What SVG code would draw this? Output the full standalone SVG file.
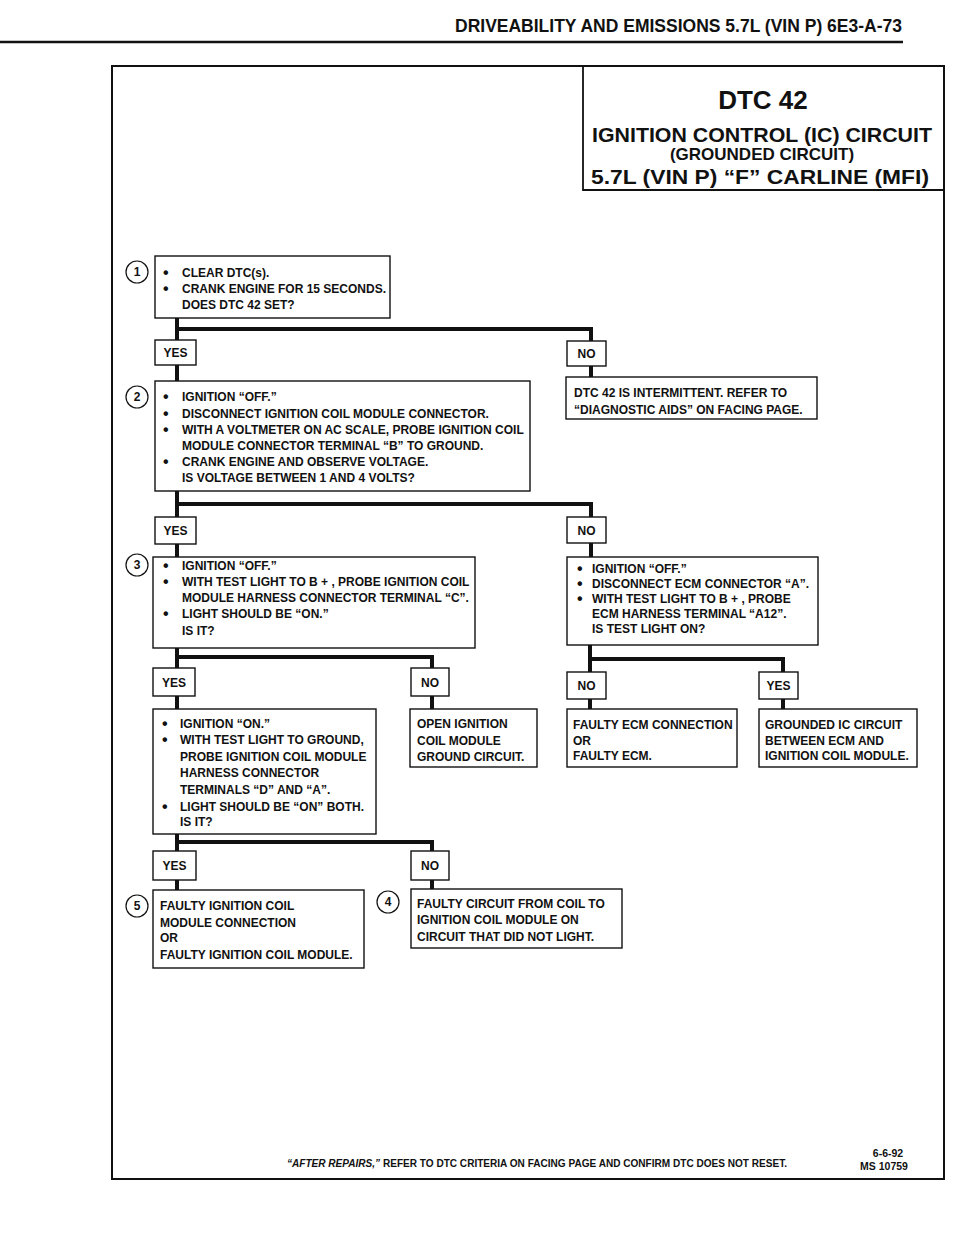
<svg xmlns="http://www.w3.org/2000/svg" width="960" height="1250" viewBox="0 0 960 1250">
<style>
.t{font-family:"Liberation Sans",Arial,sans-serif;font-weight:bold;font-size:12px;fill:#111}
.b{font-size:16px}
.n{font-size:11px}
.box{fill:#fff;stroke:#111;stroke-width:1.4}
.lbl{fill:#fff;stroke:#111;stroke-width:1.4}
.c{fill:#fff;stroke:#111;stroke-width:1.2}
.conn line{stroke:#111;stroke-width:4}
.mid{text-anchor:middle}
</style>
<rect x="0" y="0" width="960" height="1250" fill="#fff"/>
<g id="header">
<text class="t" x="455" y="32" style="font-size:19px" textLength="447" lengthAdjust="spacingAndGlyphs">DRIVEABILITY AND EMISSIONS  5.7L  (VIN P)  6E3-A-73</text>
<line x1="0" y1="42" x2="903" y2="42" stroke="#111" stroke-width="2.5"/>
</g>
<g id="frame">
<rect x="112" y="66" width="832" height="1113" fill="none" stroke="#111" stroke-width="2"/>
</g>
<g id="title">
<path d="M583 66 V190 H944" fill="none" stroke="#111" stroke-width="1.8"/>
<text class="t mid" x="763" y="109" style="font-size:26px">DTC 42</text>
<text class="t mid" x="762" y="142" style="font-size:21px" textLength="340" lengthAdjust="spacingAndGlyphs">IGNITION CONTROL (IC) CIRCUIT</text>
<text class="t mid" x="762" y="160" style="font-size:17px">(GROUNDED CIRCUIT)</text>
<text class="t mid" x="760" y="184" style="font-size:21px" textLength="338" lengthAdjust="spacingAndGlyphs">5.7L  (VIN P)  “F”  CARLINE  (MFI)</text>
</g>
<g id="connectors" class="conn">
<line x1="177" y1="318" x2="177" y2="381"/>
<line x1="175" y1="329" x2="593" y2="329"/>
<line x1="591" y1="327" x2="591" y2="377"/>
<line x1="177" y1="491" x2="177" y2="557"/>
<line x1="175" y1="504" x2="593" y2="504"/>
<line x1="591" y1="502" x2="591" y2="557"/>
<line x1="177" y1="648" x2="177" y2="709"/>
<line x1="175" y1="657" x2="434" y2="657"/>
<line x1="432" y1="655" x2="432" y2="709"/>
<line x1="590" y1="645" x2="590" y2="709"/>
<line x1="588" y1="659" x2="785" y2="659"/>
<line x1="783" y1="657" x2="783" y2="709"/>
<line x1="177" y1="834" x2="177" y2="890"/>
<line x1="175" y1="842" x2="434" y2="842"/>
<line x1="432" y1="840" x2="432" y2="889"/>
</g>
<g id="step1">
<circle class="c" cx="137" cy="272" r="11"/>
<text class="t mid" x="137" y="276">1</text>
<rect class="box" x="155" y="256" width="235" height="62"/>
<text class="t b" x="163" y="278">•</text><text class="t" x="182" y="277">CLEAR DTC(s).</text>
<text class="t b" x="163" y="294">•</text><text class="t" x="182" y="293">CRANK ENGINE FOR 15 SECONDS.</text>
<text class="t" x="182" y="309">DOES DTC 42 SET?</text>
</g>
<g id="yes1"><rect class="lbl" x="155" y="340" width="41" height="25"/><text class="t mid" x="175.5" y="357">YES</text></g>
<g id="no1"><rect class="lbl" x="567" y="341" width="39" height="25"/><text class="t mid" x="586.5" y="358">NO</text></g>
<g id="intermittent">
<rect class="box" x="566" y="377" width="251" height="42"/>
<text class="t" x="574" y="397">DTC 42 IS INTERMITTENT.  REFER TO</text>
<text class="t" x="574" y="414">“DIAGNOSTIC AIDS” ON FACING PAGE.</text>
</g>
<g id="step2">
<circle class="c" cx="137" cy="397" r="11"/>
<text class="t mid" x="137" y="401">2</text>
<rect class="box" x="155" y="381" width="375" height="110"/>
<text class="t b" x="163" y="402">•</text><text class="t" x="182" y="401">IGNITION “OFF.”</text>
<text class="t b" x="163" y="419">•</text><text class="t" x="182" y="418">DISCONNECT IGNITION COIL MODULE CONNECTOR.</text>
<text class="t b" x="163" y="435">•</text><text class="t" x="182" y="434">WITH A VOLTMETER ON AC SCALE, PROBE IGNITION COIL</text>
<text class="t" x="182" y="450">MODULE CONNECTOR TERMINAL “B” TO GROUND.</text>
<text class="t b" x="163" y="467">•</text><text class="t" x="182" y="466">CRANK ENGINE AND OBSERVE VOLTAGE.</text>
<text class="t" x="182" y="482">IS VOLTAGE BETWEEN 1 AND 4 VOLTS?</text>
</g>
<g id="yes2"><rect class="lbl" x="155" y="517" width="41" height="27"/><text class="t mid" x="175.5" y="535">YES</text></g>
<g id="no2"><rect class="lbl" x="567" y="517" width="39" height="26"/><text class="t mid" x="586.5" y="535">NO</text></g>
<g id="step3">
<circle class="c" cx="137" cy="565" r="11"/>
<text class="t mid" x="137" y="569">3</text>
<rect class="box" x="153" y="557" width="322" height="91"/>
<text class="t b" x="163" y="571">•</text><text class="t" x="182" y="570">IGNITION “OFF.”</text>
<text class="t b" x="163" y="587">•</text><text class="t" x="182" y="586">WITH TEST LIGHT TO B + , PROBE IGNITION COIL</text>
<text class="t" x="182" y="602">MODULE HARNESS CONNECTOR TERMINAL “C”.</text>
<text class="t b" x="163" y="619">•</text><text class="t" x="182" y="618">LIGHT SHOULD BE “ON.”</text>
<text class="t" x="182" y="635">IS IT?</text>
</g>
<g id="ecmcheck">
<rect class="box" x="567" y="557" width="251" height="88"/>
<text class="t b" x="577" y="574">•</text><text class="t" x="592" y="573">IGNITION “OFF.”</text>
<text class="t b" x="577" y="589">•</text><text class="t" x="592" y="588">DISCONNECT ECM CONNECTOR “A”.</text>
<text class="t b" x="577" y="604">•</text><text class="t" x="592" y="603">WITH TEST LIGHT TO B + , PROBE</text>
<text class="t" x="592" y="618">ECM HARNESS TERMINAL “A12”.</text>
<text class="t" x="592" y="633">IS TEST LIGHT ON?</text>
</g>
<g id="yes3"><rect class="lbl" x="153" y="668" width="42" height="28"/><text class="t mid" x="174" y="687">YES</text></g>
<g id="no3"><rect class="lbl" x="411" y="668" width="38" height="28"/><text class="t mid" x="430" y="687">NO</text></g>
<g id="no3r"><rect class="lbl" x="567" y="672" width="39" height="27"/><text class="t mid" x="586.5" y="690">NO</text></g>
<g id="yes3r"><rect class="lbl" x="759" y="672" width="39" height="27"/><text class="t mid" x="778.5" y="690">YES</text></g>
<g id="step4check">
<rect class="box" x="153" y="709" width="223" height="125"/>
<text class="t b" x="162" y="729">•</text><text class="t" x="180" y="728">IGNITION “ON.”</text>
<text class="t b" x="162" y="745">•</text><text class="t" x="180" y="744">WITH TEST LIGHT TO GROUND,</text>
<text class="t" x="180" y="761">PROBE IGNITION COIL MODULE</text>
<text class="t" x="180" y="777">HARNESS CONNECTOR</text>
<text class="t" x="180" y="794">TERMINALS “D” AND “A”.</text>
<text class="t b" x="162" y="812">•</text><text class="t" x="180" y="811">LIGHT SHOULD BE “ON” BOTH.</text>
<text class="t" x="180" y="826">IS IT?</text>
</g>
<g id="openground">
<rect class="box" x="410" y="709" width="127" height="58"/>
<text class="t" x="417" y="728">OPEN IGNITION</text>
<text class="t" x="417" y="745">COIL MODULE</text>
<text class="t" x="417" y="761">GROUND CIRCUIT.</text>
</g>
<g id="faultyecm">
<rect class="box" x="567" y="709" width="170" height="58"/>
<text class="t" x="573" y="729">FAULTY ECM CONNECTION</text>
<text class="t" x="573" y="745">OR</text>
<text class="t" x="573" y="760">FAULTY ECM.</text>
</g>
<g id="groundedic">
<rect class="box" x="759" y="709" width="158" height="58"/>
<text class="t" x="765" y="729">GROUNDED IC CIRCUIT</text>
<text class="t" x="765" y="745">BETWEEN ECM AND</text>
<text class="t" x="765" y="760">IGNITION COIL MODULE.</text>
</g>
<g id="yes4"><rect class="lbl" x="153" y="851" width="43" height="29"/><text class="t mid" x="174.5" y="870">YES</text></g>
<g id="no4"><rect class="lbl" x="411" y="851" width="38" height="29"/><text class="t mid" x="430" y="870">NO</text></g>
<g id="step5">
<circle class="c" cx="137" cy="906" r="11"/>
<text class="t mid" x="137" y="910">5</text>
<rect class="box" x="153" y="890" width="211" height="78"/>
<text class="t" x="160" y="910">FAULTY IGNITION COIL</text>
<text class="t" x="160" y="927">MODULE CONNECTION</text>
<text class="t" x="160" y="942">OR</text>
<text class="t" x="160" y="959">FAULTY IGNITION COIL MODULE.</text>
</g>
<g id="step4">
<circle class="c" cx="388" cy="902" r="11"/>
<text class="t mid" x="388" y="906">4</text>
<rect class="box" x="411" y="889" width="211" height="59"/>
<text class="t" x="417" y="908">FAULTY CIRCUIT FROM COIL TO</text>
<text class="t" x="417" y="924">IGNITION COIL MODULE ON</text>
<text class="t" x="417" y="941">CIRCUIT THAT DID NOT LIGHT.</text>
</g>
<g id="footer">
<text class="t n" x="287" y="1167" textLength="500" lengthAdjust="spacingAndGlyphs"><tspan style="font-style:italic">“AFTER REPAIRS,”</tspan> REFER TO DTC CRITERIA ON FACING PAGE AND CONFIRM DTC DOES NOT RESET.</text>
<text class="t n mid" x="888" y="1157" style="font-size:10.5px">6-6-92</text>
<text class="t n mid" x="884" y="1170" style="font-size:10.5px">MS 10759</text>
</g>
</svg>
